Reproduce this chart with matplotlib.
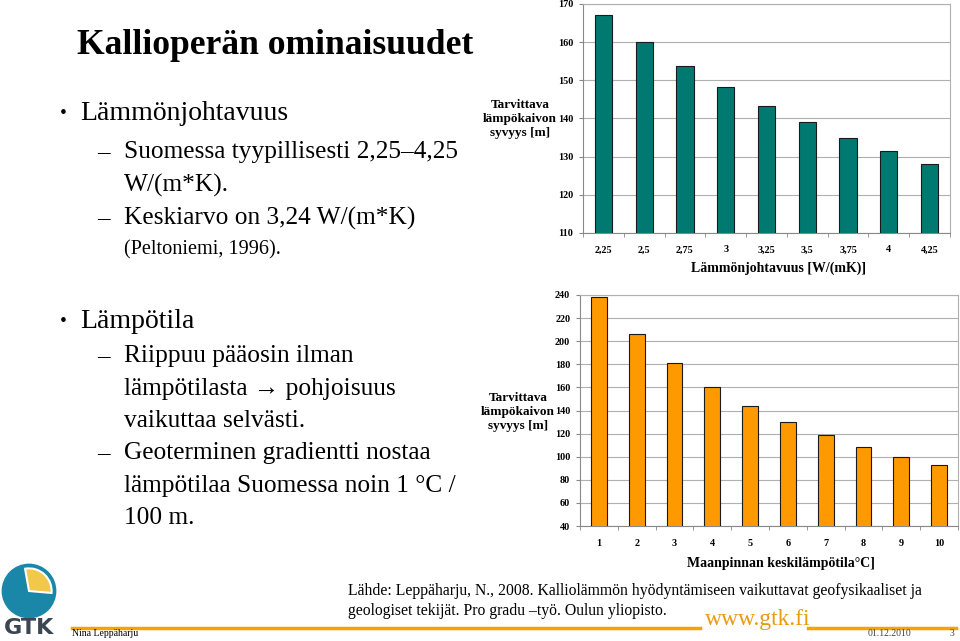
import matplotlib
matplotlib.use("Agg")
import matplotlib.pyplot as plt
from matplotlib.patches import Circle, Wedge
import numpy as np

plt.rcParams['font.family'] = ['Liberation Serif', 'DejaVu Serif']

# data: conductivity chart
cond_labels = ["2,25", "2,5", "2,75", "3", "3,25", "3,5", "3,75", "4", "4,25"]
cond_depth = [167.2, 160.1, 153.8, 148.3, 143.3, 139.0, 135.0, 131.5, 128.2]

# data: temperature chart
temp_labels = ["1", "2", "3", "4", "5", "6", "7", "8", "9", "10"]
temp_depth = [238.3, 206.5, 181.1, 160.3, 143.6, 129.8, 118.5, 108.4, 100.0, 92.5]

W, H = 960, 641
fig = plt.figure(figsize=(9.6, 6.41), dpi=100)


def fx(x):
    return x / W


def fy(y):
    return 1 - y / H


def txt(x, y, s, size, **kw):
    fig.text(fx(x), fy(y), s, fontsize=size, va='center', **kw)


def bar_chart(rect, labels, values, color, ylim, yticks, xlabel, ylab_xy, xlab_y):
    ax = fig.add_axes([fx(rect[0]), fy(rect[3]), fx(rect[2] - rect[0]), (rect[3] - rect[1]) / H])
    pos = np.arange(len(values))
    ax.bar(pos, values, width=0.42, color=color, edgecolor='#1a1a1a', linewidth=0.8, zorder=3)
    ax.set_xlim(-0.5, len(values) - 0.5)
    ax.set_ylim(*ylim)
    ax.set_yticks(yticks)
    ax.set_xticks(pos)
    ax.set_xticklabels(labels)
    ax.set_xticks(np.arange(len(values) + 1) - 0.5, minor=True)
    ax.tick_params(axis='x', which='major', length=0, pad=9)
    ax.tick_params(axis='x', which='minor', length=3, color='#888888', direction='out')
    ax.tick_params(axis='y', length=3, color='#888888', pad=4)
    for lab in ax.get_xticklabels() + ax.get_yticklabels():
        lab.set_fontsize(7.3)
        lab.set_fontweight('bold')
    ax.grid(axis='y', color='#b0b0b0', linewidth=0.8, zorder=0)
    for side in ['top', 'right']:
        ax.spines[side].set_color('#b0b0b0')
    for side in ['left', 'bottom']:
        ax.spines[side].set_color('#888888')
    fig.text(fx(ylab_xy[0]), fy(ylab_xy[1]), "Tarvittava\nlämpökaivon\nsyvyys [m]",
             fontsize=9.5, fontweight='bold', ha='center', va='center', linespacing=1.2)
    fig.text(fx((rect[0] + rect[2]) / 2 + 12), fy(xlab_y), xlabel, fontsize=10,
             fontweight='bold', ha='center', va='center')
    return ax


bar_chart((583, 4, 950, 233), cond_labels, cond_depth, '#007a70',
          (110, 170), range(110, 171, 10), "Lämmönjohtavuus [W/(mK)]", (520, 119), 268)
bar_chart((580, 295, 958, 526), temp_labels, temp_depth, '#ff9900',
          (40, 240), range(40, 241, 20), "Maanpinnan keskilämpötila\u00b0C]", (518, 412), 564)

# slide text
txt(77, 45, "Kallioperän ominaisuudet", 25.6, fontweight='bold')
txt(60, 113, "•", 14)
txt(80, 113, "Lämmönjohtavuus", 20)
txt(97, 152, "–", 18)
txt(124, 152, "Suomessa tyypillisesti 2,25–4,25", 18.3)
txt(124, 185, "W/(m*K).", 18.3)
txt(97, 218, "–", 18)
txt(124, 218, "Keskiarvo on 3,24 W/(m*K)", 18.3)
txt(124, 250, "(Peltoniemi, 1996).", 14.6)

txt(60, 321, "•", 14)
txt(80, 321, "Lämpötila", 20)
txt(97, 356, "–", 18)
txt(124, 356, "Riippuu pääosin ilman", 18.3)
txt(124, 389, "lämpötilasta \u2192 pohjoisuus", 18.3, family=['Liberation Serif', 'DejaVu Sans'])
txt(124, 421, "vaikuttaa selvästi.", 18.3)
txt(97, 453, "–", 18)
txt(124, 453, "Geoterminen gradientti nostaa", 18.3)
txt(124, 486, "lämpötilaa Suomessa noin 1 °C /", 18.3)
txt(124, 518, "100 m.", 18.3)

# source
txt(348, 591, "Lähde: Leppäharju, N., 2008. Kalliolämmön hyödyntämiseen vaikuttavat geofysikaaliset ja", 11.35)
txt(348, 611, "geologiset tekijät. Pro gradu –työ. Oulun yliopisto.", 11.35)

# footer
orange = '#f5a300'
fig.add_artist(plt.Line2D([fx(72), fx(700)], [fy(628), fy(628)], color=orange, linewidth=2.5))
fig.add_artist(plt.Line2D([fx(808), fx(956)], [fy(628), fy(628)], color=orange, linewidth=2.5))
txt(705, 619, "www.gtk.fi", 17, color='#eb9a10')
txt(72, 634, "Nina Leppäharju", 7)
txt(868, 634, "01.12.2010", 7, color='#444444')
txt(950, 634, "3", 7, color='#444444')

# logo
lax = fig.add_axes([fx(0), fy(620), fx(58), 58 / H])
lax.set_xlim(-1, 1)
lax.set_ylim(-1, 1)
lax.set_aspect('equal')
lax.axis('off')
lax.add_patch(Circle((0, 0), 0.92, color='#1a86a8'))
lax.add_patch(Wedge((0, 0), 0.78, -5, 100, facecolor='#f2c84b', edgecolor='white', linewidth=1.5))
txt(4, 628, "GTK", 16, fontweight='bold', color='#3b4652', family='DejaVu Sans')

fig.savefig("out.png", dpi=100)
